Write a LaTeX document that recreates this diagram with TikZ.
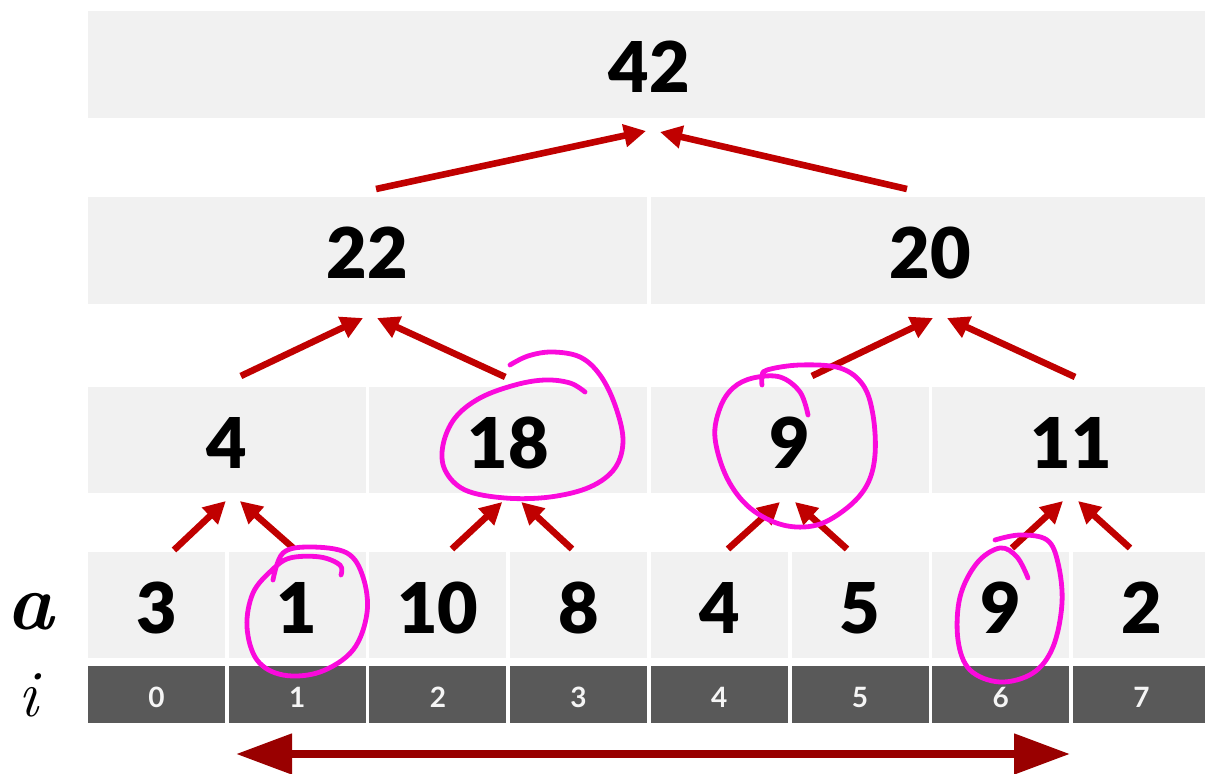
\documentclass[tikz,border=0pt]{standalone}
\usepackage{fontspec}
\newfontfamily\numfont{Lato}[BoldFont={Lato Black}]
\newfontfamily\idxfont{Lato}
\usetikzlibrary{calc,arrows.meta}

\definecolor{cellgray}{RGB}{241,241,241}
\definecolor{idxgray}{RGB}{89,89,89}
\definecolor{idxtext}{RGB}{245,245,245}
\definecolor{arrowred}{RGB}{192,0,0}
\definecolor{darkred}{RGB}{153,0,0}
\definecolor{marker}{RGB}{250,10,220}

\tikzset{
  box/.style={fill=cellgray, draw=none, anchor=north west, inner sep=0pt, outer sep=0pt,
    font=\numfont\bfseries\fontsize{35}{35}\selectfont, text height=28.5pt, text depth=0pt},
  leaf/.style={box, minimum width=68.5pt, minimum height=53pt},
  pair/.style={box, minimum width=138.85pt, minimum height=53pt},
  half/.style={box, minimum width=279.55pt, minimum height=53.5pt},
  whole/.style={box, minimum width=561pt, minimum height=53.5pt},
  idx/.style={fill=idxgray, text=idxtext, draw=none, anchor=north west, inner sep=0pt, outer sep=0pt,
    minimum width=68.5pt, minimum height=28.5pt,
    font=\idxfont\bfseries\fontsize{14}{14}\selectfont, text height=13.5pt, text depth=0pt},
  up/.style={draw=arrowred, line width=3.3pt, -{Triangle[length=11pt,width=11pt]}},
  span/.style={draw=darkred, line width=4pt,
    {Triangle[length=28pt,width=19.5pt]}-{Triangle[length=28pt,width=19.5pt]}},
  ink/.style={draw=marker, line width=2.4pt, line cap=round, line join=round},
  rowlabel/.style={inner sep=0pt, font=\fontsize{40}{40}\selectfont},
}

\begin{document}
\begin{tikzpicture}[x=0.5pt, y=-0.5pt]
  \useasboundingbox (0,0) rectangle (1205,774);
  \clip (0,0) rectangle (1205,774);

  % sums tree
  \node[whole] (n42) at (88,11) {42};
  \node[half] (n22) at (88,197) {22};
  \node[half] (n20) at (650.8,197) {20};
  \node[pair] (n4)  at (88,387) {4};
  \node[pair] (n18) at (369.4,387) {18};
  \node[pair] (n9)  at (650.8,387) {9};
  \node[pair] (n11) at (932.2,387) {11};

  % array values and indices
  \foreach \v [count=\k from 0] in {3,1,10,8,4,5,9,2} {
    \node[leaf] (a\k) at ({88+140.7*\k},552) {\v};
    \node[idx]  (i\k) at ({88+140.7*\k},666) {\k};
  }

  \node[rowlabel] (la) at (31,612) {\textbf{\textit{a}}};
  \node[rowlabel, font=\fontsize{33}{33}\selectfont] (li) at (30,695) {\textit{i}};

  % top level
  \draw[up] ($(n22.north)+(8.5,-8)$) -- ($(n42.south)+(-3,13)$);
  \draw[up] ($(n20.north)+(-23.4,-8)$) -- ($(n42.south)+(11,14)$);

  % second level
  \draw[up] ($(n4.north)+(14,-11)$) -- ($(n22.south)+(-4.5,14)$);
  \draw[up] ($(n18.north)+(-3,-10)$) -- ($(n22.south)+(9.5,14)$);
  \draw[up] ($(n9.north)+(22.3,-11)$) -- ($(n20.south)+(2.6,14)$);
  \draw[up] ($(n11.north)+(4,-10)$) -- ($(n20.south)+(16.6,14)$);

  % third level
  \draw[up] ($(a0.north)+(17.5,-2)$) -- ($(n4.south)+(-1,8)$);
  \draw[up] ($(a1.north)+(-4,-4)$) -- ($(n4.south)+(13,8)$);
  \draw[up] ($(a2.north)+(14,-3)$) -- ($(n18.south)+(-6,9)$);
  \draw[up] ($(a3.north)+(-6.6,-3)$) -- ($(n18.south)+(13,9)$);
  \draw[up] ($(a4.north)+(8.7,-3)$) -- ($(n9.south)+(-9.7,9)$);
  \draw[up] ($(a5.north)+(-13,-3)$) -- ($(n9.south)+(5.3,9)$);
  \draw[up] ($(a6.north)+(11.3,-4)$) -- ($(n11.south)+(-8,8)$);
  \draw[up] ($(a7.north)+(-11.4,-4)$) -- ($(n11.south)+(7,8)$);

  % range under the indices
  \coordinate (rl) at (236,754);
  \coordinate (rr) at (1070,754);
  \draw[span] (rl) -- (rr);

  % hand-drawn marks
  \draw[ink] plot[smooth, tension=0.6] coordinates {
    (273,580) (283,553) (310,547) (347,553) (363,577) (367,613) (353,650)
    (320,672) (283,675) (257,660) (247,627) (253,593) (272,570) (290,558)
    (320,557) (340,565) (341,575)};
  \draw[ink] plot[smooth, tension=0.6] coordinates {
    (510,365) (528,356) (552,352) (580,357) (600,375) (615,405) (623,440)
    (615,468) (590,487) (550,497) (505,498) (465,490) (445,470) (443,445)
    (455,418) (480,398) (515,385) (545,380) (570,383) (585,392)};
  \draw[ink] plot[smooth, tension=0.6] coordinates {
    (762,385) (762,377) (767,370) (800,365) (840,368) (863,385) (873,415)
    (875,455) (867,485) (847,508) (817,525) (783,525) (750,508) (727,478)
    (715,438) (720,408) (733,388) (753,378) (780,377) (800,392) (808,415)};
  \draw[ink] plot[smooth, tension=0.6] coordinates {
    (995,540) (1020,535) (1047,540) (1058,563) (1062,603) (1053,647)
    (1033,673) (1000,682) (970,670) (958,640) (960,597) (977,563)
    (1000,548) (1017,557) (1028,578)};
\end{tikzpicture}
\end{document}
